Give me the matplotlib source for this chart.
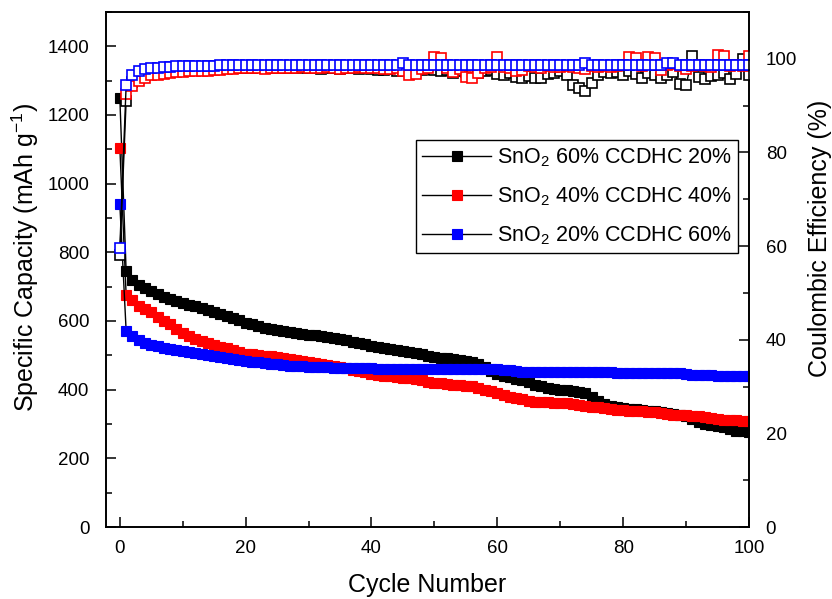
import numpy as np
import matplotlib
matplotlib.use('Agg')
import matplotlib.pyplot as plt
from matplotlib.ticker import MultipleLocator

plt.rcParams['font.family'] = ['Liberation Sans', 'DejaVu Sans']
plt.rcParams['mathtext.fontset'] = 'custom'
plt.rcParams['mathtext.rm'] = 'Liberation Sans'
plt.rcParams['mathtext.it'] = 'Liberation Sans:italic'
plt.rcParams['mathtext.bf'] = 'Liberation Sans:bold'

cycles = np.arange(0, 101)

labels = [r'SnO$_2$ 60% CCDHC 20%', r'SnO$_2$ 40% CCDHC 40%', r'SnO$_2$ 20% CCDHC 60%']
colors = ['#000000', '#ff0000', '#0000ff']

cap_black = [1250, 745, 720, 705, 695, 686, 678, 671, 665, 659,
             653, 648, 643, 638, 633, 626, 620, 614, 608, 602,
             595, 590, 584, 581, 578, 575, 572, 569, 566, 563,
             560, 558, 556, 553, 550, 547, 544, 540, 536, 532,
             528, 525, 522, 518, 515, 512, 510, 507, 504, 499,
             495, 493, 491, 489, 486, 484, 480, 475, 466, 455,
             445, 440, 436, 432, 428, 422, 415, 410, 406, 403,
             400, 398, 396, 393, 390, 378, 366, 358, 352, 349,
             347, 345, 343, 341, 339, 337, 334, 331, 328, 326,
             323, 315, 306, 300, 297, 295, 290, 285, 281, 279,
             278]
cap_red = [1105, 677, 660, 645, 635, 627, 612, 600, 590, 578,
           565, 555, 548, 541, 535, 530, 525, 520, 515, 510,
           505, 503, 501, 499, 497, 495, 493, 490, 487, 484,
           481, 478, 475, 472, 469, 466, 462, 458, 454, 450,
           446, 444, 441, 439, 437, 435, 433, 430, 427, 423,
           420, 418, 416, 414, 413, 412, 410, 405, 400, 396,
           390, 383, 378, 376, 372, 368, 365, 364, 363, 362,
           361, 360, 359, 356, 352, 350, 349, 348, 345, 341,
           340, 339, 338, 337, 336, 334, 331, 329, 327, 326,
           325, 324, 322, 320, 317, 314, 313, 312, 311, 310,
           308]
cap_blue = [940, 572, 555, 545, 537, 531, 526, 522, 518, 515,
            512, 510, 506, 503, 500, 497, 494, 491, 488, 485,
            483, 481, 480, 478, 476, 474, 472, 470, 469, 468,
            467, 466, 465, 465, 464, 464, 463, 463, 462, 462,
            462, 461, 461, 461, 461, 461, 461, 461, 460, 460,
            460, 460, 460, 460, 460, 460, 460, 459, 459, 459,
            459, 458, 456, 453, 451, 451, 451, 450, 450, 450,
            450, 450, 450, 450, 450, 450, 450, 450, 450, 449,
            449, 449, 449, 449, 449, 449, 449, 448, 448, 448,
            447, 444, 442, 442, 442, 441, 441, 441, 441, 441,
            440]

ce_black = [58.0, 91.0, 95.0, 96.0, 96.5, 97.0, 97.2, 97.4, 97.5, 97.6,
            97.7, 97.8, 97.8, 97.9, 97.9, 98.0, 98.0, 98.0, 98.1, 98.1,
            98.1, 98.0, 98.2, 98.0, 98.1, 98.2, 98.0, 98.1, 98.2, 98.0,
            98.1, 98.0, 97.9, 98.1, 98.0, 97.8, 98.0, 98.1, 97.9, 98.0,
            97.9, 97.7, 97.6, 97.8, 97.5, 97.9, 97.7, 97.8, 97.6, 97.8,
            97.6, 97.4, 97.6, 97.0, 97.3, 97.2, 97.4, 96.9, 97.3, 97.6,
            96.8, 96.5, 97.0, 96.2, 96.0, 96.3, 96.0, 95.9, 96.8, 97.0,
            97.3, 96.5, 94.3, 93.8, 93.2, 94.8, 96.5, 97.2, 97.0, 97.2,
            96.6, 97.4, 96.8, 96.0, 97.0, 96.5, 95.8, 96.6, 97.2, 94.7,
            94.3, 100.5, 96.2, 95.6, 96.4, 96.5, 97.0, 95.6, 96.8, 99.9,
            96.5]
ce_red = [np.nan, 92.4, 94.1, 95.2, 95.8, 96.5, 96.6, 96.8, 96.9, 97.1,
          97.2, 97.3, 97.5, 97.5, 97.5, 97.6, 97.7, 97.8, 97.9, 98.0,
          98.0, 98.0, 98.1, 97.9, 98.0, 98.1, 98.0, 98.1, 98.0, 98.2,
          98.0, 98.1, 98.0, 98.2, 98.0, 97.8, 98.1, 98.0, 98.2, 98.0,
          98.1, 98.0, 97.8, 97.9, 98.0, 97.5, 96.5, 96.8, 97.8, 98.1,
          100.3, 100.2, 98.0, 97.2, 97.8, 96.2, 96.0, 97.0, 98.0, 98.2,
          100.3, 98.3, 98.0, 97.4, 97.6, 98.4, 98.2, 98.0, 98.4, 98.3,
          98.2, 98.4, 98.3, 98.0, 97.8, 98.4, 98.2, 98.5, 98.3, 98.4,
          98.6, 100.3, 100.2, 98.5, 100.3, 100.1, 97.6, 98.6, 98.8, 98.4,
          97.8, 98.5, 98.6, 98.4, 98.3, 100.8, 100.6, 98.5, 98.6, 98.4,
          100.5]
ce_blue = [59.6, 94.3, 96.5, 97.3, 97.9, 98.0, 98.1, 98.2, 98.3, 98.4,
           98.5, 98.5, 98.5, 98.5, 98.5, 98.5, 98.6, 98.6, 98.7, 98.7,
           98.7, 98.7, 98.7, 98.7, 98.7, 98.7, 98.7, 98.7, 98.7, 98.7,
           98.7, 98.7, 98.7, 98.7, 98.7, 98.7, 98.7, 98.7, 98.7, 98.7,
           98.7, 98.7, 98.7, 98.7, 98.7, 99.2, 98.7, 98.7, 98.7, 98.7,
           98.7, 98.7, 98.7, 98.7, 98.7, 98.7, 98.7, 98.7, 98.7, 98.7,
           98.7, 98.7, 98.7, 98.7, 98.7, 98.7, 98.7, 98.7, 98.7, 98.7,
           98.7, 98.7, 98.7, 98.7, 99.2, 98.7, 98.7, 98.7, 98.7, 98.7,
           98.7, 98.7, 98.7, 98.7, 98.7, 98.7, 98.7, 99.1, 99.2, 98.7,
           98.7, 98.7, 98.7, 98.7, 98.7, 98.7, 98.7, 98.7, 98.7, 98.7,
           98.7]

caps = [cap_black, cap_red, cap_blue]
ces = [ce_black, ce_red, ce_blue]

fig = plt.figure(figsize=(8.32, 5.99), dpi=100)
ax1 = fig.add_axes([0.1274, 0.1202, 0.7728, 0.8598])
ax2 = ax1.twinx()

handles = []
for cap, col, lab in zip(caps, colors, labels):
    h, = ax1.plot(cycles, cap, '-', color='black', lw=1.0, marker='s', ms=7.2,
                  mfc=col, mec=col, mew=0.8, label=lab)
    handles.append(h)
for ce, col in zip(ces, colors):
    ax2.plot(cycles, ce, '-', color='black', lw=1.0, marker='s', ms=7.2,
             mfc='white', mec=col, mew=1.2)

ax1.set_xlim(-2.2, 100)
ax1.set_ylim(0, 1500)
ax2.set_ylim(0, 110)

ax1.xaxis.set_major_locator(MultipleLocator(20))
ax1.xaxis.set_minor_locator(MultipleLocator(10))
ax1.yaxis.set_minor_locator(MultipleLocator(100))
ax2.yaxis.set_minor_locator(MultipleLocator(10))
ax1.set_yticks(np.arange(0, 1401, 200))
ax2.set_yticks(np.arange(0, 101, 20))

for ax in (ax1, ax2):
    ax.tick_params(which='major', direction='in', length=7, width=1.1, labelsize=13.5)
    ax.tick_params(which='minor', direction='in', length=4, width=1.1)
    for s in ax.spines.values():
        s.set_linewidth(1.2)
ax1.tick_params(axis='both', top=False, right=False)
ax1.tick_params(axis='x', pad=9)
ax1.tick_params(axis='y', pad=12)
ax2.tick_params(axis='y', right=True, left=False, pad=12)

ax1.set_xlabel('Cycle Number', fontsize=18, labelpad=12)
ax1.set_ylabel('Specific Capacity (mAh g$^{-1}$)', fontsize=18, labelpad=5)
ax2.set_ylabel('Coulombic Efficiency (%)', fontsize=18, labelpad=8)
ax1.yaxis.label.set_y(0.524)
ax2.yaxis.label.set_y(0.56)

leg = ax2.legend(handles=handles, loc='upper right', bbox_to_anchor=(0.983, 0.751),
                 fontsize=15.5, frameon=True, fancybox=False, framealpha=1,
                 edgecolor='black', handlelength=3.2, handletextpad=0.25,
                 borderpad=0.3, labelspacing=0.75, borderaxespad=0)
leg.get_frame().set_linewidth(1.0)

fig.savefig('out.png', dpi=100)
